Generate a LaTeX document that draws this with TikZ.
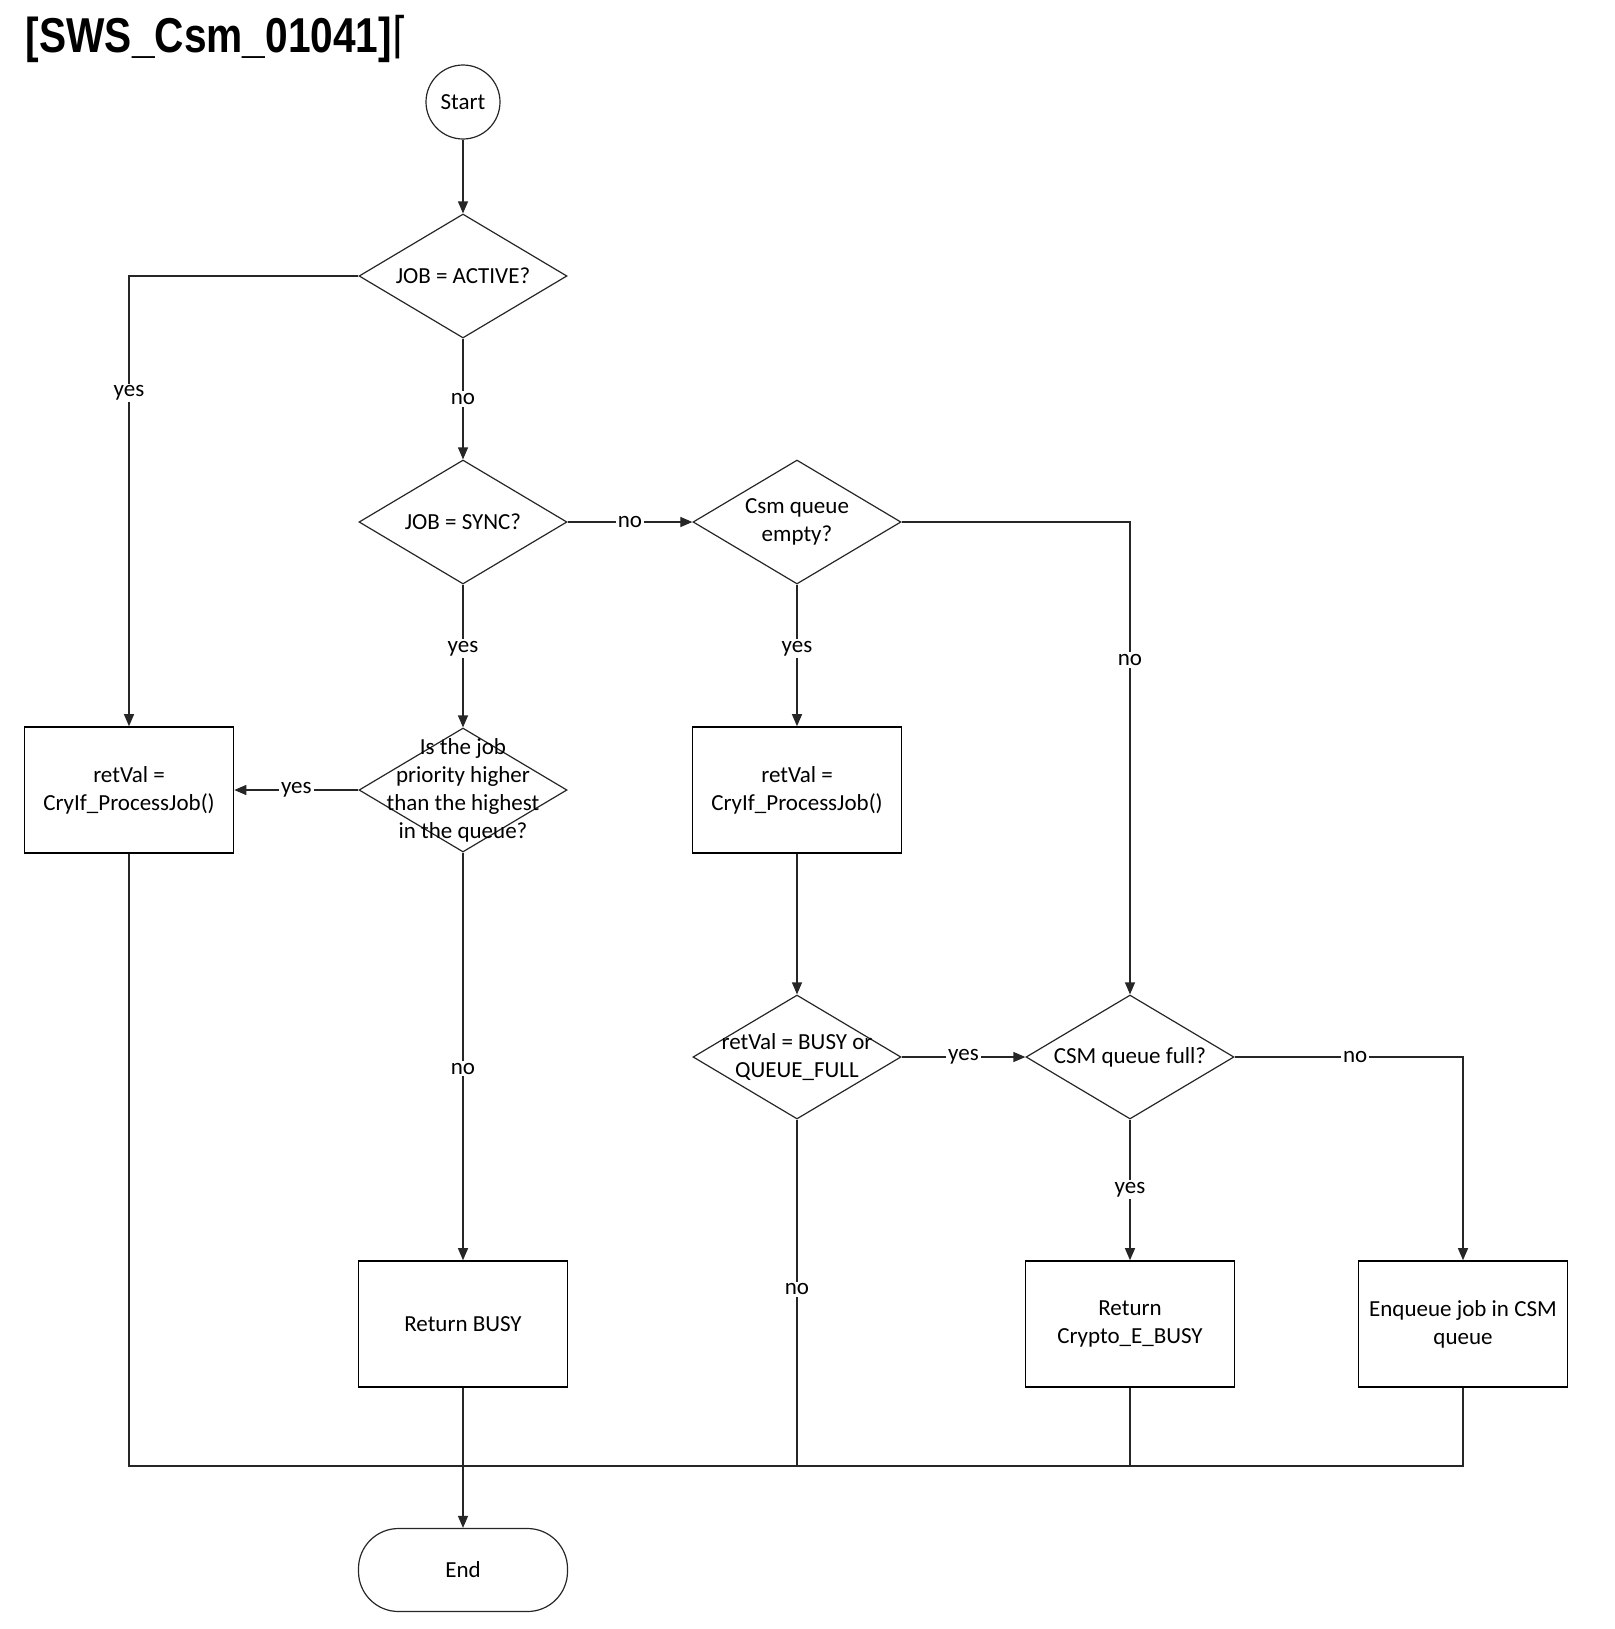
\documentclass[tikz,border=0pt]{standalone}
\usepackage{fontspec}
\setmainfont{Carlito}
\newfontfamily\titlefont{Liberation Sans}
\newfontfamily\symfont{DejaVu Sans}
\usetikzlibrary{arrows.meta, shapes.geometric}

\begin{document}
\begin{tikzpicture}[x=0.5pt, y=-0.5pt,
        every node/.style={font=\fontsize{11.5}{14}\selectfont},
        act/.style={rectangle, draw=black, line width=0.8pt, minimum width=104.5pt, minimum height=63pt, align=center, inner sep=2pt},
        dec/.style={diamond, draw=black!85, line width=0.6pt, minimum width=104pt, minimum height=62pt, inner sep=0pt},
        dtext/.style={align=center, inner sep=0pt},
        term/.style={circle, draw=black!85, line width=0.6pt, minimum size=37pt, inner sep=0pt},
        stop/.style={rectangle, rounded corners=20pt, draw=black!85, line width=0.6pt, minimum width=104.5pt, minimum height=41.5pt},
        line/.style={draw=black!85, line width=0.6pt},
        flow/.style={line, -{Triangle[length=6pt, width=5pt]}},
        lbl/.style={fill=white, inner sep=1pt},
    ]
    \useasboundingbox (0,0) rectangle (1615,1629);
    \node[anchor=west, font=\titlefont\bfseries\fontsize{24.5}{30}\selectfont, xscale=0.83, transform shape] (title) at (20,39) {[SWS\_Csm\_01041]{\symfont\mdseries ⌈}};

    \node[term] (start) at (463,102) {Start};
    \node[dec, label={[dtext]center:JOB = ACTIVE?}] (active) at (463,276) {};
    \node[dec, label={[dtext]center:JOB = SYNC?}] (sync) at (463,522) {};
    \node[dec, label={[dtext]center:Csm queue\\empty?}] (empty) at (797,522) {};
    \node[dec, label={[dtext]center:Is the job\\priority higher\\than the highest\\in the queue?}] (prio) at (463,790) {};
    \node[act] (procl) at (129,790) {retVal =\\CryIf\_ProcessJob()};
    \node[act] (procm) at (797,790) {retVal =\\CryIf\_ProcessJob()};
    \node[dec, label={[dtext]center:retVal = BUSY or\\QUEUE\_FULL}] (busyq) at (797,1057) {};
    \node[dec, label={[dtext]center:CSM queue full?}] (full) at (1130,1057) {};
    \node[act] (retbusy) at (463,1324) {Return BUSY};
    \node[act] (retcrypto) at (1130,1324) {Return\\Crypto\_E\_BUSY};
    \node[act] (enq) at (1463,1324) {Enqueue job in CSM\\queue};
    \node[stop] (end) at (463,1570) {End};
    \coordinate (join) at (463,1466);

    % decisions
    \draw[flow] (start) -- (active);
    \draw[flow] (active.west) -| node[lbl, pos=0.63] {yes} (procl.north);
    \draw[flow] (active) -- node[lbl] {no} (sync);
    \draw[flow] (sync) -- node[lbl] {no} (empty);
    \draw[flow] (sync) -- node[lbl, pos=0.45] {yes} (prio);
    \draw[flow] (prio) -- node[lbl] {yes} (procl);
    \draw[flow] (prio) -- node[lbl, pos=0.53] {no} (retbusy);
    \draw[flow] (empty) -- node[lbl, pos=0.45] {yes} (procm);
    \draw[flow] (empty.east) -| node[lbl, pos=0.646] {no} (full.north);
    \draw[flow] (procm) -- (busyq);
    \draw[flow] (busyq) -- node[lbl] {yes} (full);
    \draw[flow] (full) -- node[lbl] {yes} (retcrypto);
    \draw[flow] (full.east) -| node[lbl, pos=0.264] {no} (enq.north);

    % merge to end
    \draw[line] (procl.south) |- (join);
    \draw[line] (busyq.south) |- node[lbl, pos=0.245] {no} (join);
    \draw[line] (retcrypto.south) |- (join);
    \draw[line] (enq.south) |- (join);
    \draw[flow] (retbusy) -- (end);
\end{tikzpicture}
\end{document}
